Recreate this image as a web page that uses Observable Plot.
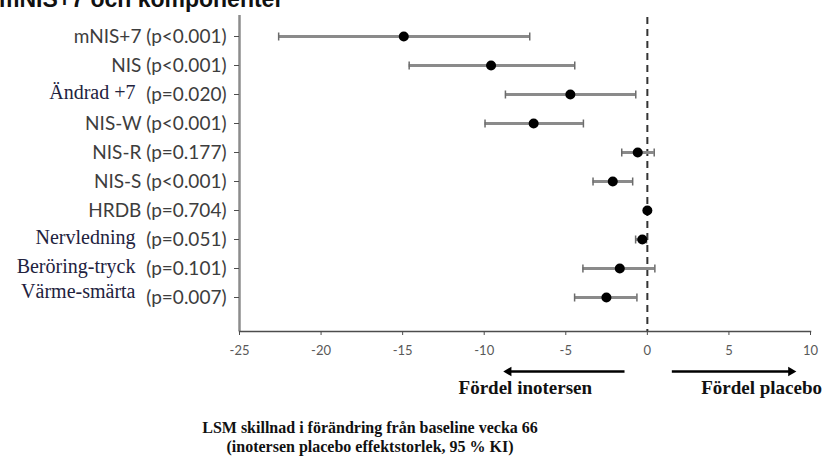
<!DOCTYPE html>
<html>
<head>
<meta charset="utf-8">
<script src="https://cdn.jsdelivr.net/npm/d3@7"></script>
<script src="https://cdn.jsdelivr.net/npm/@observablehq/plot@0.6"></script>
<style>
  html, body { margin: 0; padding: 0; background: #fff; overflow: hidden; }
  #wrap { position: relative; width: 826px; height: 461px; }
  #title { position: absolute; left: -1px; top: -12px; font: bold 23px "Liberation Sans", Arial, sans-serif; color: #111; white-space: nowrap; line-height: 22px; }
  #caption { position: absolute; left: 170px; width: 400px; top: 418px; text-align: center; font: bold 16px "Liberation Serif", "Times New Roman", serif; line-height: 19px; color: #111; }
</style>
</head>
<body>
<div id="wrap">
  <div id="chart"></div>
  <div id="title">mNIS+7 och komponenter</div>
  <div id="caption">LSM skillnad i förändring från baseline vecka 66<br>(inotersen placebo effektstorlek, 95 % KI)</div>
</div>
<script>
const labels = ["mNIS+7", "NIS", "Ändrad +7", "NIS-W", "NIS-R", "NIS-S", "HRDB", "Nervledning", "Beröring-tryck", "Värme-smärta"];
const pValues = ["(p<0.001)", "(p<0.001)", "(p=0.020)", "(p<0.001)", "(p=0.177)", "(p<0.001)", "(p=0.704)", "(p=0.051)", "(p=0.101)", "(p=0.007)"];
const estimates = [-14.93, -9.58, -4.72, -6.97, -0.59, -2.12, 0.0, -0.31, -1.69, -2.51];
const lowerCI = [-22.6, -14.6, -8.7, -9.95, -1.57, -3.33, -0.1, -0.72, -3.95, -4.46];
const upperCI = [-7.21, -4.45, -0.71, -3.92, 0.42, -0.9, 0.1, -0.05, 0.46, -0.64];
const xTicks = [-25, -20, -15, -10, -5, 0, 5, 10];
const arrowFrom = [-1.4, 1.5];
const arrowTo = [-8.5, 8.8];
const directionLabels = ["Fördel inotersen", "Fördel placebo"];
const directionX = [-7.48, 7.0];

const serifNames = new Set(["Ändrad +7", "Nervledning", "Beröring-tryck", "Värme-smärta"]);
const rows = labels.map((label, i) => ({label, p: pValues[i], est: estimates[i], lo: lowerCI[i], hi: upperCI[i]}));
const sansRows = rows.filter(d => !serifNames.has(d.label));
const serifRows = rows.filter(d => serifNames.has(d.label));
const arrows = arrowFrom.map((x1, i) => ({x1, x2: arrowTo[i], dir: arrowTo[i] < x1 ? -90 : 90}));
const dirs = directionLabels.map((text, i) => ({text, x: directionX[i]}));
const lastRow = labels[labels.length - 1];

const sans = "Lato, 'Open Sans', sans-serif";
const serif = "'Liberation Serif', 'Times New Roman', serif";

// vertical cap symbol for the error bars
const capSymbol = {
  draw(context, size) {
    const h = Math.sqrt(size / Math.PI);
    context.moveTo(0, -h);
    context.lineTo(0, h);
  }
};

const chart = Plot.plot({
  width: 826,
  height: 461,
  marginLeft: 239,
  marginRight: 16,
  marginTop: 15,
  marginBottom: 130,
  style: {fontFamily: sans, background: "white"},
  x: {domain: [-25, 10]},
  y: {type: "point", domain: labels, range: [34, 299], padding: 0},
  marks: [
    Plot.ruleX([-25], {stroke: "#8c8c8c", strokeWidth: 2.5}),
    Plot.frame({anchor: "bottom", stroke: "#4d4d4d", strokeWidth: 1.5}),
    Plot.ruleX([0], {stroke: "#333", strokeWidth: 2, strokeDasharray: "7,5", insetTop: 2}),
    Plot.axisX({ticks: xTicks, tickFormat: d => String(d), tickSize: 4, tickPadding: 10, fontSize: 13, fill: "#595959", stroke: "#4d4d4d", label: null}),
    Plot.axisY({tickSize: 5, tickFormat: () => "", stroke: "#4d4d4d", label: null}),
    Plot.ruleY(rows, {y: "label", x1: "lo", x2: "hi", stroke: "#8a8a8a", strokeWidth: 3}),
    Plot.dot(rows, {y: "label", x: "lo", symbol: capSymbol, r: 4, stroke: "#6b6b6b", strokeWidth: 1.5, fill: "none"}),
    Plot.dot(rows, {y: "label", x: "hi", symbol: capSymbol, r: 4, stroke: "#6b6b6b", strokeWidth: 1.5, fill: "none"}),
    Plot.dot(rows, {y: "label", x: "est", r: 5, fill: "black"}),
    Plot.text(sansRows, {y: "label", text: d => d.label + " " + d.p, frameAnchor: "left", textAnchor: "end", dx: -13, fontSize: 19, fill: "#3d3d3d", fontFamily: sans}),
    Plot.text(serifRows, {y: "label", text: "p", frameAnchor: "left", textAnchor: "end", dx: -13, fontSize: 19, fill: "#3d3d3d", fontFamily: sans}),
    Plot.text(serifRows.filter(d => d.label !== lastRow), {y: "label", text: "label", frameAnchor: "left", textAnchor: "end", dx: -104, dy: -2, fontSize: 20, fill: "#22223e", fontFamily: serif}),
    Plot.text(serifRows.filter(d => d.label === lastRow), {y: "label", text: "label", frameAnchor: "left", textAnchor: "end", dx: -104, dy: -6, fontSize: 20, fill: "#22223e", fontFamily: serif}),
    Plot.link(arrows, {x1: "x1", x2: "x2", y1: () => lastRow, y2: () => lastRow, dy: 74, stroke: "black", strokeWidth: 2.5}),
    Plot.dot(arrows, {x: "x2", y: () => lastRow, dy: 74, symbol: "triangle2", rotate: "dir", r: 4.5, fill: "black"}),
    Plot.text(dirs, {x: "x", text: "text", frameAnchor: "bottom", dy: 62, fontSize: 19, fontWeight: "bold", fill: "#111", fontFamily: serif})
  ]
});
document.getElementById("chart").appendChild(chart);
</script>
</body>
</html>
